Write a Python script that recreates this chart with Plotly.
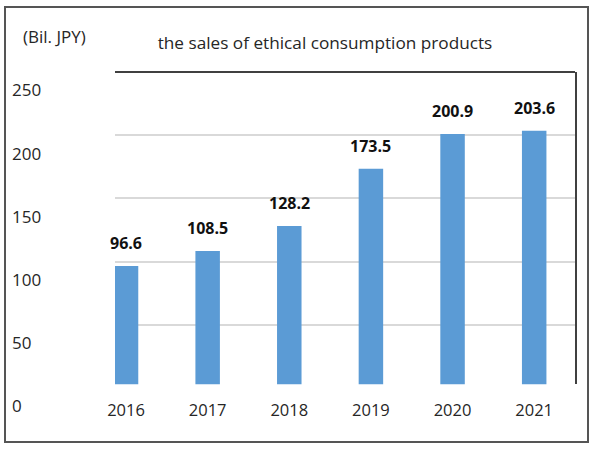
import plotly.graph_objects as go

years = ["2016", "2017", "2018", "2019", "2020", "2021"]
sales = [96.6, 108.5, 128.2, 173.5, 200.9, 203.6]
value_labels = ["96.6", "108.5", "128.2", "173.5", "200.9", "203.6"]
y_ticks = [0, 50, 100, 150, 200, 250]

W, H = 600, 450
ML, MR, MT, MB = 10, 12, 72, 30
PW, PH = W - ML - MR, H - MT - MB


def px_x(p):
    return (p - ML) / PW


def px_y(p):
    return (H - MB - p) / PH


FONT = "Open Sans"
BLUE = "#5b9bd5"

fig = go.Figure()
fig.add_trace(go.Bar(
    x=years, y=sales, marker=dict(color=BLUE, line=dict(width=0)),
    width=0.3, hoverinfo="skip", showlegend=False,
))
# empty helper trace so the tick-label axis (y2) is rendered
fig.add_trace(go.Scatter(x=[], y=[], yaxis="y2", mode="markers",
                         hoverinfo="skip", showlegend=False))

for i, (v, t) in enumerate(zip(sales, value_labels)):
    fig.add_annotation(x=i, y=v, text=f"<b>{t}</b>", showarrow=False,
                       xref="x", yref="y", yanchor="bottom", yshift=10,
                       font=dict(family=FONT, size=16, color="#111111"))

fig.update_layout(
    width=W, height=H,
    margin=dict(l=ML, r=MR, t=MT, b=MB, autoexpand=False),
    paper_bgcolor="white", plot_bgcolor="rgba(0,0,0,0)",
    showlegend=False,
    title=dict(text="the sales of ethical consumption products",
               x=325 / W, y=1 - 43 / H, xref="container", yref="container",
               xanchor="center", yanchor="middle",
               font=dict(family=FONT, size=17.2, color="#262626")),
    xaxis=dict(
        domain=[px_x(115), px_x(575)], range=[-0.135, 5.5],
        type="category", showline=False, showgrid=False, zeroline=False,
        ticks="", ticklabelstandoff=14,
        tickfont=dict(family=FONT, size=16.5, color="#262626"),
        anchor="y",
    ),
    yaxis=dict(
        domain=[px_y(384.3), 1], range=[3, 250], side="right",
        showline=True, linecolor="#404040", linewidth=2,
        showgrid=True, gridcolor="#d9d9d9", gridwidth=1.5,
        dtick=50, tick0=0, showticklabels=False, ticks="", zeroline=False,
        anchor="x",
    ),
    yaxis2=dict(
        domain=[0, 1], range=[-10.9, 264.6], anchor="free",
        position=px_x(11), side="right",
        tickvals=y_ticks, ticktext=[str(v) for v in y_ticks],
        showline=False, showgrid=False, zeroline=False, ticks="",
        tickfont=dict(family=FONT, size=17, color="#262626"),
    ),
)

# top line of plot area
fig.add_shape(type="line", xref="x domain", yref="y domain",
              x0=0, x1=1, y0=1, y1=1,
              line=dict(color="#404040", width=2))

# outer frame
fig.add_shape(type="rect", xref="paper", yref="paper",
              x0=px_x(5), x1=px_x(588), y0=px_y(442), y1=px_y(7),
              line=dict(color="#555555", width=2), fillcolor="rgba(0,0,0,0)",
              layer="below")

fig.add_annotation(text="(Bil. JPY)", xref="paper", yref="paper",
                   x=px_x(21), y=px_y(37), xanchor="left", yanchor="middle",
                   showarrow=False,
                   font=dict(family=FONT, size=17, color="#262626"))

fig.write_html("out.html")
